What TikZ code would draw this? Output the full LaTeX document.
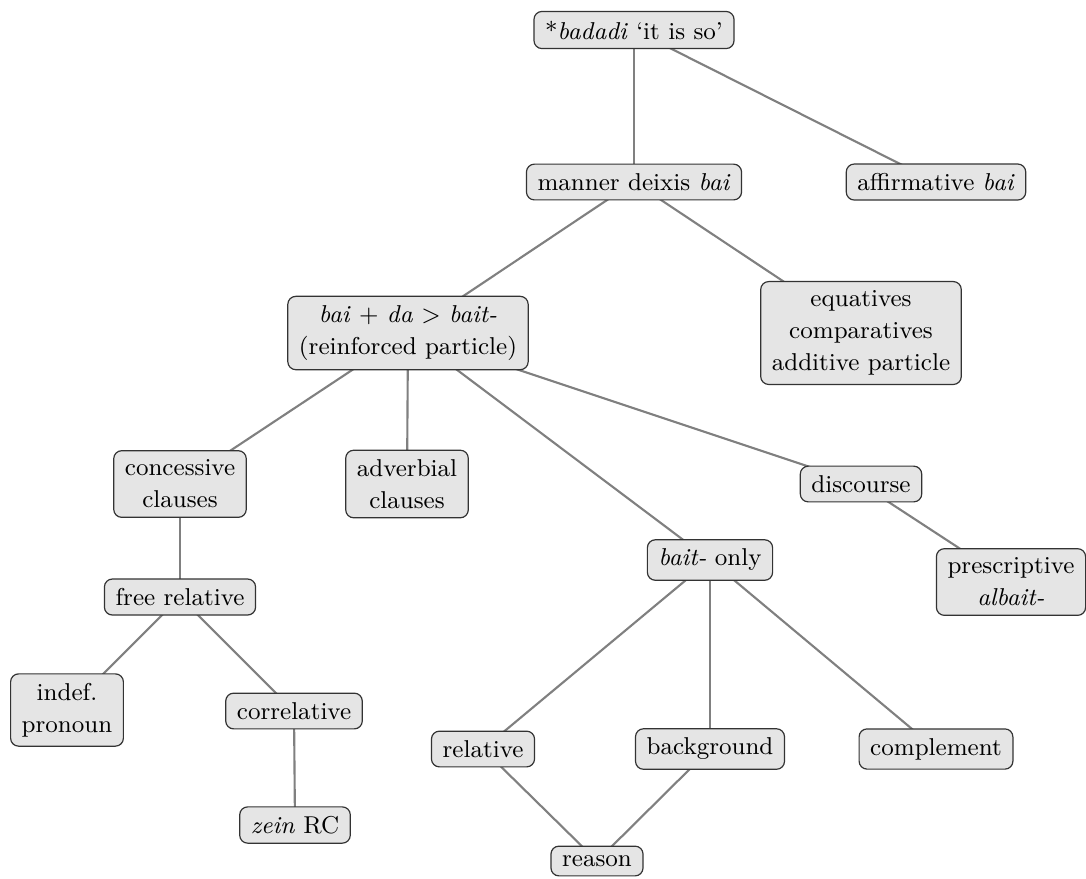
\documentclass[tikz,border=0pt]{standalone}
\usepackage{fontspec}
\usetikzlibrary{backgrounds}
\tikzset{
  box/.style={draw=black!80, line width=0.45pt, fill=black!10, rounded corners=3pt,
    inner xsep=4.2pt, inner ysep=3.5pt, align=center, font=\fontsize{9.2}{12}\selectfont},
  link/.style={draw=black!50, line width=0.8pt}
}
\begin{document}
\begin{tikzpicture}[x=0.3774pt, y=-0.3774pt]
\useasboundingbox (0,0) rectangle (1086,878);
\node[box] (badadi) at (634,30) {*\textit{badadi} ‘it is so’};
\node[box] (manner) at (634,182) {manner deixis \textit{bai}};
\node[box] (affirm) at (936,182) {affirmative \textit{bai}};
\node[box] (baida) at (408,333) {\textit{bai} + \textit{da} > \textit{bait-}\\(reinforced particle)};
\node[box] (equat) at (861,333) {equatives\\comparatives\\additive particle};
\node[box] (conc) at (180,484) {concessive\\clauses};
\node[box] (adverb) at (407,484) {adverbial\\clauses};
\node[box] (disc) at (861,484) {discourse};
\node[box] (baitonly) at (710,560) {\textit{bait-} only};
\node[box] (presc) at (1011,582) {prescriptive\\\textit{albait-}};
\node[box] (freerel) at (180,597) {free relative};
\node[box] (indef) at (67,710) {indef.\\pronoun};
\node[box] (correl) at (294,711) {correlative};
\node[box] (relat) at (483,749) {relative};
\node[box] (backgr) at (710,749) {background};
\node[box] (compl) at (936,749) {complement};
\node[box] (zein) at (295,825) {\textit{zein} RC};
\node[box] (reason) at (597,861) {reason};
\begin{pgfonlayer}{background}
\draw[link] (badadi.center) -- (manner.center);
\draw[link] (badadi.center) -- (affirm.center);
\draw[link] (manner.center) -- (baida.center);
\draw[link] (manner.center) -- (equat.center);
\draw[link] (baida.center) -- (conc.center);
\draw[link] (baida.center) -- (adverb.center);
\draw[link] (baida.center) -- (baitonly.center);
\draw[link] (baida.center) -- (disc.center);
\draw[link] (disc.center) -- (presc.center);
\draw[link] (conc.center) -- (freerel.center);
\draw[link] (freerel.center) -- (indef.center);
\draw[link] (freerel.center) -- (correl.center);
\draw[link] (correl.center) -- (zein.center);
\draw[link] (baitonly.center) -- (relat.center);
\draw[link] (baitonly.center) -- (backgr.center);
\draw[link] (baitonly.center) -- (compl.center);
\draw[link] (relat.center) -- (reason.center);
\draw[link] (backgr.center) -- (reason.center);
\end{pgfonlayer}
\end{tikzpicture}
\end{document}
